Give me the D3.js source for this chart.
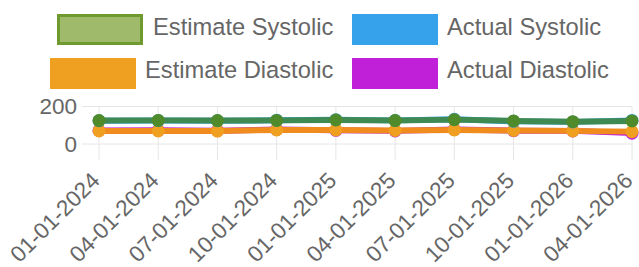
<!DOCTYPE html>
<html><head><meta charset="utf-8">
<script src="https://cdn.jsdelivr.net/npm/d3@7"></script>
<style>html,body{margin:0;padding:0;background:#fff;}svg{display:block;}</style>
</head><body>
<svg id="c" width="639" height="267"></svg>
<script>
const dates = ["01-01-2024","04-01-2024","07-01-2024","10-01-2024","01-01-2025","04-01-2025","07-01-2025","10-01-2025","01-01-2026","04-01-2026"];
const estimateSystolic = [125,126,125,126,128,125,130,123,119,123];
const actualSystolic   = [124,125,124,127,130,126,132,121,118,126];
const estimateDiastolic= [70,70,69,75,75,72,75,72,70,66];
const actualDiastolic  = [72,73,71,77,73,70,77,71,70,58];
const yTicks = [0,200];

const series = [
  {name:"Estimate Systolic", values:estimateSystolic, line:"#3f8a52", point:"#4f8a2b", boxFill:"#9fba6a", boxStroke:"#6e9a30"},
  {name:"Actual Systolic", values:actualSystolic, line:"#36a2eb", point:"#36a2eb", boxFill:"#36a2eb", boxStroke:"#36a2eb"},
  {name:"Estimate Diastolic", values:estimateDiastolic, line:"#f08c1e", point:"#f0a020", boxFill:"#f0a020", boxStroke:"#f0a020"},
  {name:"Actual Diastolic", values:actualDiastolic, line:"#c020d8", point:"#c020d8", boxFill:"#c020d8", boxStroke:"#c020d8"}
];

const svg = d3.select("#c");
const font = "Liberation Sans, Arial, Helvetica, sans-serif";
const fs = 22.5;
const x = d3.scalePoint().domain(dates).range([99, 632]);
const y = d3.scaleLinear().domain([0,200]).range([144, 106.5]);

// grid
const g = svg.append("g");
g.selectAll("line.v").data(dates).join("line")
  .attr("x1", d=>x(d)).attr("x2", d=>x(d)).attr("y1", 106.5).attr("y2", 160)
  .attr("stroke", "#e6e6e6").attr("stroke-width", 1);
g.selectAll("line.h").data(yTicks).join("line")
  .attr("x1", 82).attr("x2", 632).attr("y1", d=>y(d)).attr("y2", d=>y(d))
  .attr("stroke", "#e6e6e6").attr("stroke-width", 1);

// y labels
g.selectAll("text.y").data(yTicks).join("text")
  .attr("x", 77).attr("y", d=>y(d)).attr("dy", "0.35em")
  .attr("text-anchor","end").attr("font-family", font).attr("font-size", fs)
  .attr("fill","#666").text(d=>d);

// x labels
g.selectAll("text.x").data(dates).join("text")
  .attr("transform", d=>`translate(${x(d)+2},182) rotate(-45)`)
  .attr("text-anchor","end").attr("font-family", font).attr("font-size", fs)
  .attr("fill","#666").text(d=>d);

// lines: draw in reverse order
const line = d3.line().x((d,i)=>x(dates[i])).y(d=>y(d));
series.slice().reverse().forEach(s=>{
  svg.append("path").datum(s.values).attr("d", line)
    .attr("fill","none").attr("stroke", s.line).attr("stroke-width", 6).attr("stroke-linejoin","round");
  svg.selectAll(null).data(s.values).join("circle")
    .attr("cx",(d,i)=>x(dates[i])).attr("cy", d=>y(d)).attr("r", 6.5)
    .attr("fill", s.point);
});

// legend
const legendPos = [
  {bx:57, by:14, tx:153, ty:34.5},
  {bx:352, by:14, tx:447, ty:34.5},
  {bx:50, by:58, tx:145, ty:78},
  {bx:352, by:58, tx:447, ty:78}
];
series.forEach((s,i)=>{
  const p = legendPos[i];
  svg.append("rect").attr("x", p.bx+1.5).attr("y", p.by+1.5).attr("width", 83).attr("height", 28)
    .attr("fill", s.boxFill).attr("stroke", s.boxStroke).attr("stroke-width", 3);
  svg.append("text").attr("x", p.tx).attr("y", p.ty)
    .attr("font-family", font).attr("font-size", 23.7).attr("fill","#666").text(s.name);
});
</script>
</body></html>
